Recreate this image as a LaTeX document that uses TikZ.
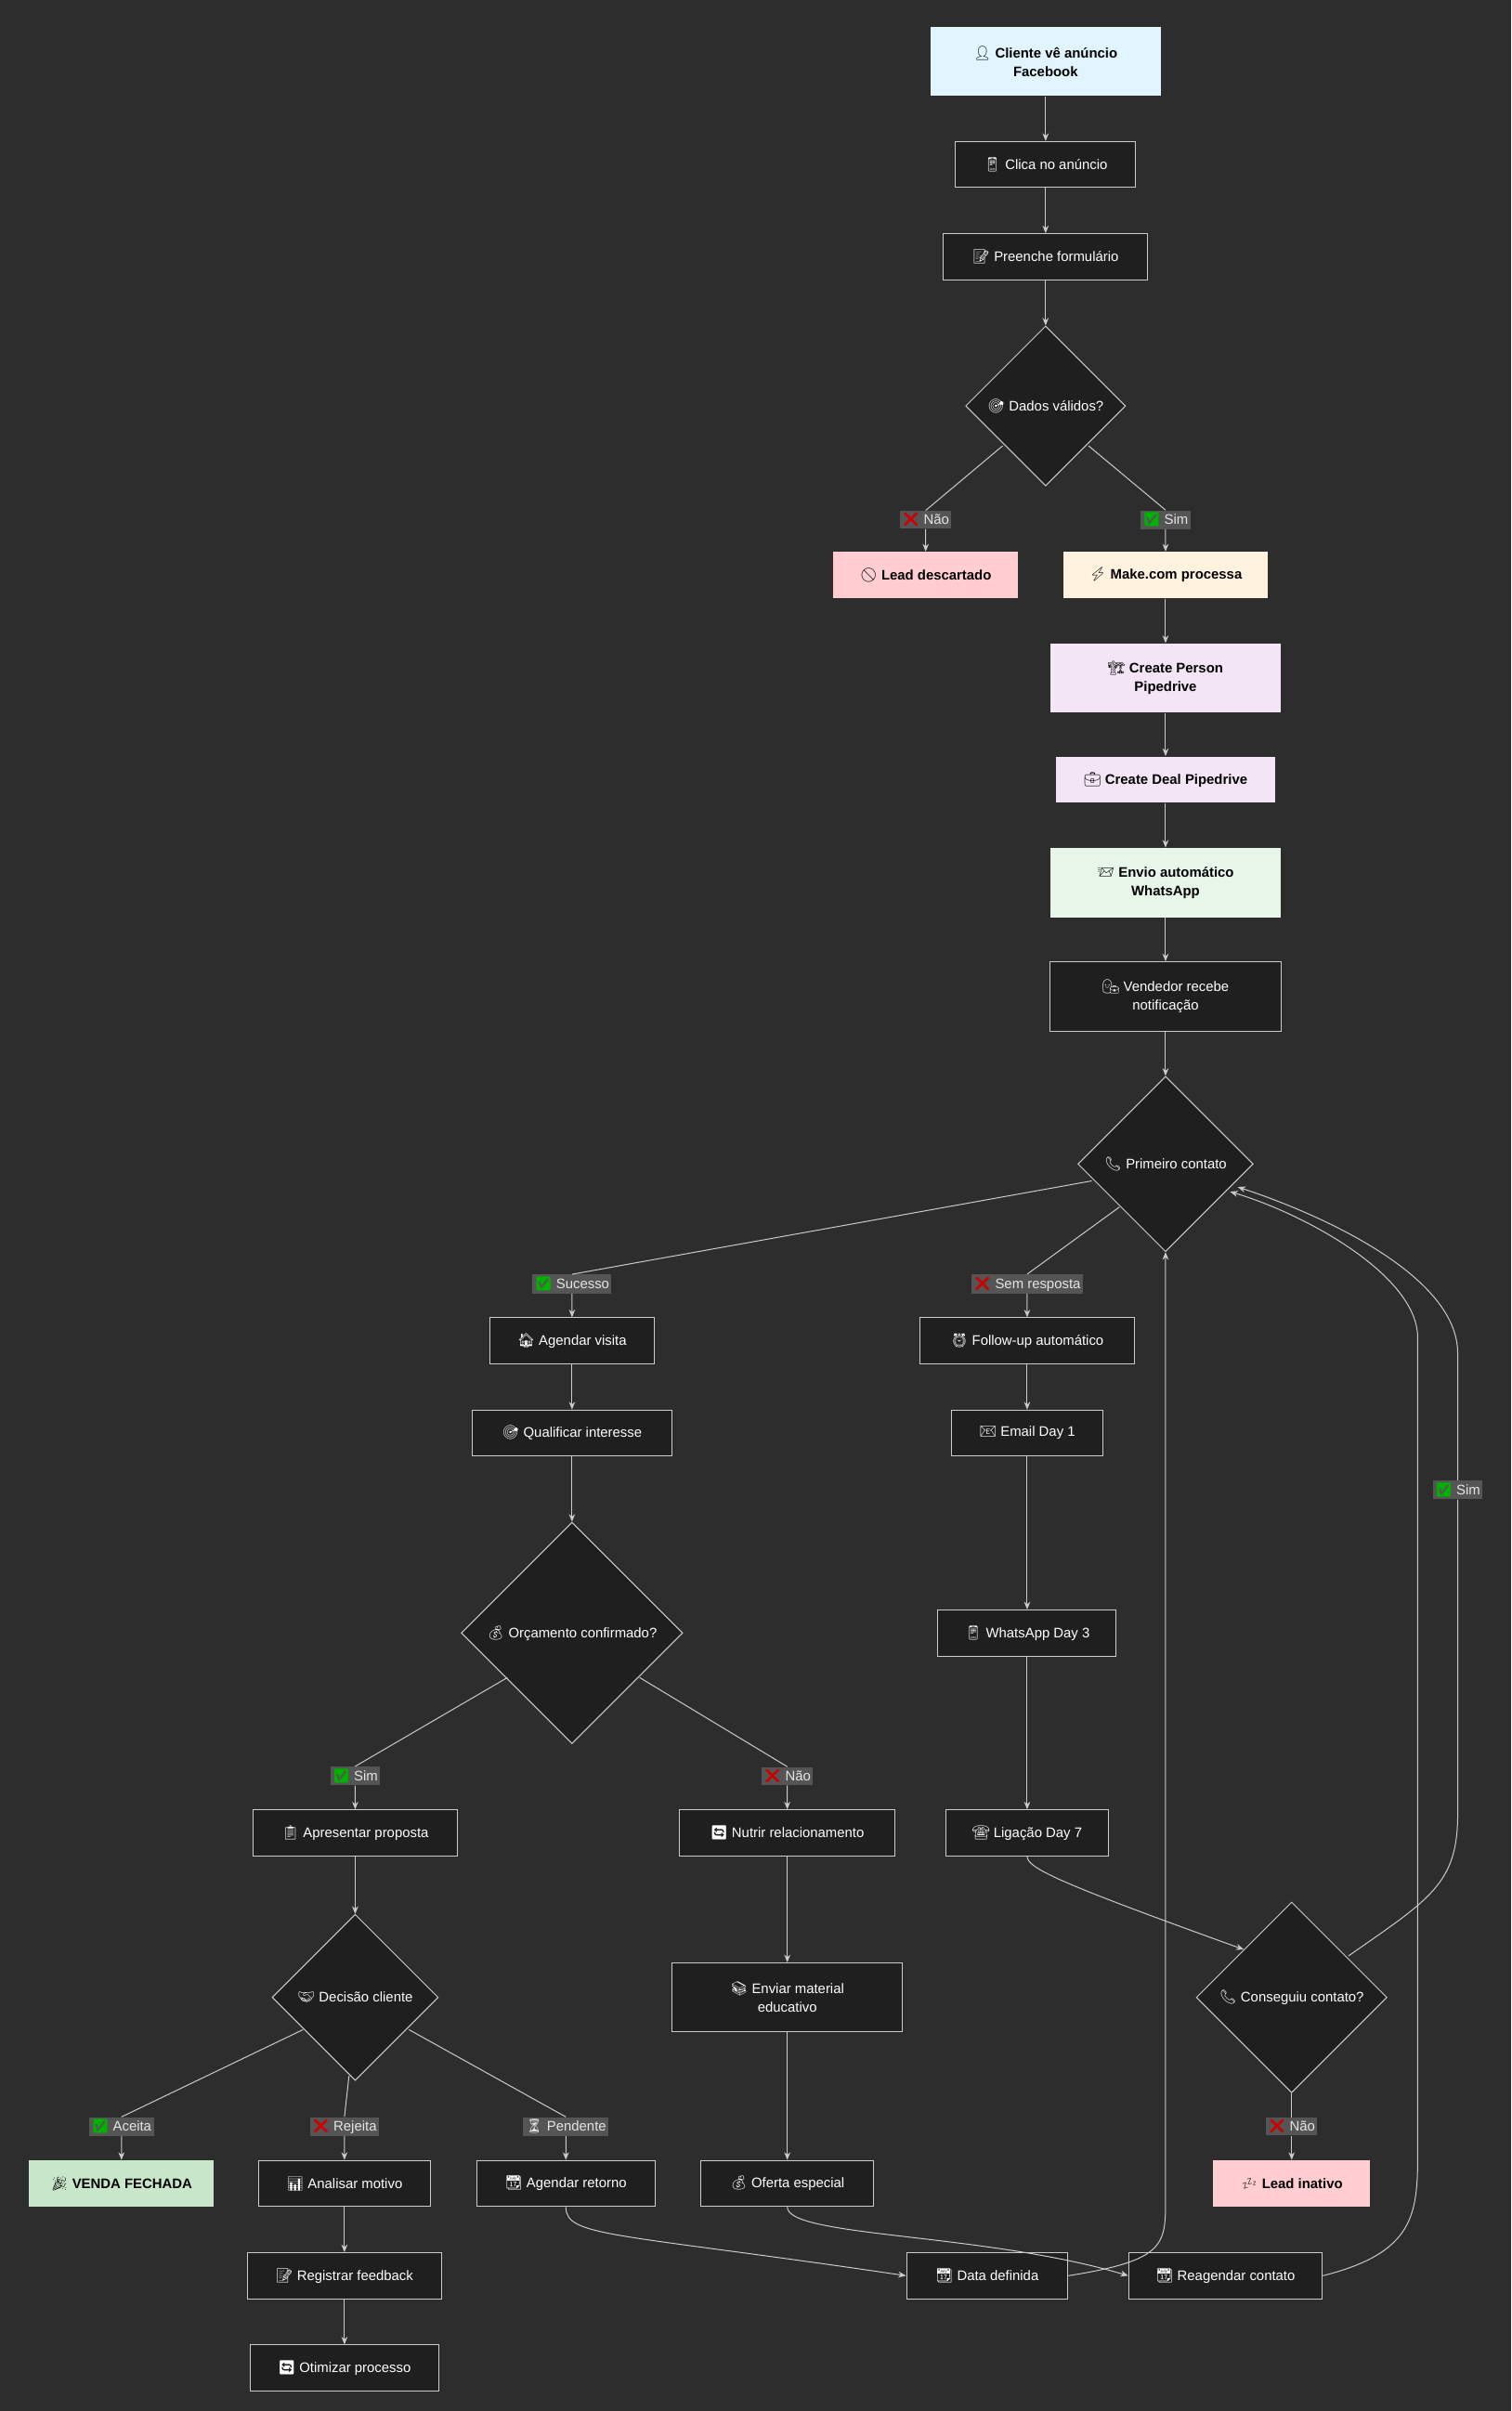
\documentclass[tikz,border=0pt]{standalone}
\usepackage{fontspec}
\setmainfont{Liberation Sans}
\newfontfamily\emo{Noto Emoji}
\usetikzlibrary{shapes.geometric,arrows.meta}
\definecolor{bg}{HTML}{2D2D2D}
\definecolor{nd}{HTML}{1F1F1F}
\definecolor{ln}{HTML}{CCCCCC}
\definecolor{lb}{HTML}{555555}
\definecolor{cblue}{HTML}{E1F5FE}
\definecolor{cpink}{HTML}{FFCDD2}
\definecolor{ccream}{HTML}{FFF3E0}
\definecolor{clav}{HTML}{F3E5F5}
\definecolor{cgreen}{HTML}{E8F5E9}
\definecolor{cgreen2}{HTML}{C8E6C9}
\newcommand{\E}[1]{{\emo #1}}
\newcommand{\okk}{{\emo\color{green!70!black}✅}}
\newcommand{\noo}{{\emo\color{red!80!black}❌}}
\tikzset{
 box/.style={draw=ln,fill=nd,text=white,minimum height=30pt,inner sep=2pt,font=\fontsize{9}{12}\selectfont,line width=0.6pt,align=center},
 cbox/.style={box,draw=none,text=black,font=\bfseries\fontsize{9}{12}\selectfont},
 dia/.style={diamond,draw=ln,fill=nd,line width=0.6pt,inner sep=0pt},
 dt/.style={text=white,font=\fontsize{9}{12}\selectfont},
 lab/.style={fill=lb,text=white!90!black,inner sep=1.5pt,font=\fontsize{9}{11}\selectfont},
 ar/.style={draw=ln,line width=0.6pt,-{Stealth[length=5pt,width=4pt]}},
 x=1pt,y=-1pt
}
\begin{document}
\begin{tikzpicture}
\fill[bg] (0,0) rectangle (983,1568);
\useasboundingbox (0,0) rectangle (983,1568);
% nodes
\node[cbox,fill=cblue,minimum width=150,minimum height=45] (A) at (680,40) {\E{👤} Cliente vê anúncio\\Facebook};
\node[box,minimum width=117] (B) at (680,107) {\E{📱} Clica no anúncio};
\node[box,minimum width=133] (C) at (680,167) {\E{📝} Preenche formulário};
\node[dia,minimum size=104] (D) at (680,264) {};
\node[dt] at (D) {\E{🎯} Dados válidos?};
\node[cbox,fill=cpink,minimum width=120] (E) at (602,374) {\E{🚫} Lead descartado};
\node[cbox,fill=ccream,minimum width=133] (F) at (758,374) {\E{⚡} Make.com processa};
\node[cbox,fill=clav,minimum width=150,minimum height=45] (G) at (758,441) {\E{🏗} Create Person\\Pipedrive};
\node[cbox,fill=clav,minimum width=143] (H) at (758,507) {\E{💼} Create Deal Pipedrive};
\node[cbox,fill=cgreen,minimum width=150,minimum height=45] (I) at (758,574) {\E{📨} Envio automático\\WhatsApp};
\node[box,minimum width=150,minimum height=45] (J) at (758,648) {\E{👨‍💼} Vendedor recebe\\notificação};
\node[dia,minimum size=114] (K) at (758,757) {};
\node[dt] at (K) {\E{📞} Primeiro contato};
\node[box,minimum width=107] (L) at (372,872) {\E{🏠} Agendar visita};
\node[box,minimum width=140] (M) at (668,872) {\E{⏰} Follow-up automático};
\node[box,minimum width=130] (N) at (372,932) {\E{🎯} Qualificar interesse};
\node[box,minimum width=98] (O) at (668,932) {\E{📧} Email Day 1};
\node[dia,minimum size=144] (P) at (372,1062) {};
\node[dt] at (P) {\E{💰} Orçamento confirmado?};
\node[box,minimum width=116] (Q) at (668,1062) {\E{📱} WhatsApp Day 3};
\node[box,minimum width=133] (R) at (231,1192) {\E{📋} Apresentar proposta};
\node[box,minimum width=140] (S) at (512,1192) {\E{🔄} Nutrir relacionamento};
\node[box,minimum width=106] (T) at (668,1192) {\E{☎} Ligação Day 7};
\node[dia,minimum size=108] (U) at (231,1299) {};
\node[dt] at (U) {\E{🤝} Decisão cliente};
\node[box,minimum width=150,minimum height=45] (V) at (512,1299) {\E{📚} Enviar material\\educativo};
\node[dia,minimum size=124] (W) at (840,1299) {};
\node[dt] at (W) {\E{📞} Conseguiu contato?};
\node[cbox,fill=cgreen2,minimum width=120] (X) at (79,1420) {\E{🎉} VENDA FECHADA};
\node[box,minimum width=112] (Y) at (224,1420) {\E{📊} Analisar motivo};
\node[box,minimum width=116] (Z) at (368,1420) {\E{📆} Agendar retorno};
\node[box,minimum width=112] (AA) at (512,1420) {\E{💰} Oferta especial};
\node[cbox,fill=cpink,minimum width=102] (AB) at (840,1420) {\E{💤} Lead inativo};
\node[box,minimum width=126] (AC) at (224,1480) {\E{📝} Registrar feedback};
\node[box,minimum width=105] (AD) at (642,1480) {\E{📆} Data definida};
\node[box,minimum width=126] (AE) at (797,1480) {\E{📆} Reagendar contato};
\node[box,minimum width=123] (AF) at (224,1540) {\E{🔄} Otimizar processo};
% labels
\node[lab] (l1) at (602,338) {\noo{} Não};
\node[lab] (l2) at (758,338) {\okk{} Sim};
\node[lab] (l3) at (372,835) {\okk{} Sucesso};
\node[lab] (l4) at (668,835) {\noo{} Sem resposta};
\node[lab] (l5) at (231,1155) {\okk{} Sim};
\node[lab] (l6) at (512,1155) {\noo{} Não};
\node[lab] (l7) at (79,1383) {\okk{} Aceita};
\node[lab] (l8) at (224,1383) {\noo{} Rejeita};
\node[lab] (l9) at (368,1383) {\E{⏳} Pendente};
\node[lab] (l10) at (840,1383) {\noo{} Não};
\node[lab] (l11) at (948,969) {\okk{} Sim};
% edges
\draw[ar] (A)--(B); \draw[ar] (B)--(C); \draw[ar] (C)--(D);
\draw[ar] (652,290) -- (l1.north) (l1.south) -- (E);
\draw[ar] (708,290) -- (l2.north) (l2.south) -- (F);
\draw[ar] (F)--(G); \draw[ar] (G)--(H); \draw[ar] (H)--(I); \draw[ar] (I)--(J); \draw[ar] (J)--(K);
\draw[ar] (710,768) -- (l3.north) (l3.south) -- (L);
\draw[ar] (728,785) -- (l4.north) (l4.south) -- (M);
\draw[ar] (L)--(N); \draw[ar] (M)--(O); \draw[ar] (N)--(P); \draw[ar] (O)--(Q); \draw[ar] (Q)--(T);
\draw[ar] (330,1091) -- (l5.north) (l5.south) -- (R);
\draw[ar] (416,1091) -- (l6.north) (l6.south) -- (S);
\draw[ar] (R)--(U); \draw[ar] (S)--(V); \draw[ar] (V)--(AA);
\draw[ar] (197,1320) -- (l7.north) (l7.south) -- (X);
\draw[ar] (227,1350) -- (l8.north) (l8.south) -- (Y);
\draw[ar] (266,1320) -- (l9.north) (l9.south) -- (Z);
\draw[ar] (W) -- (l10) -- (AB);
\draw[ar] (Y)--(AC); \draw[ar] (AC)--(AF);
\draw[ar] (T.south) .. controls (668,1215) and (690,1225) .. (W.north west);
\draw[ar] (Z.south) .. controls (368,1455) and (400,1452) .. (AD.west);
\draw[ar] (AA.south) .. controls (512,1455) and (640,1452) .. (AE.west);
\draw[ar] (AD.east) .. controls (758,1470) and (758,1460) .. (758,1430) -- (K.south);
\draw[ar] (AE.east) .. controls (920,1465) and (922,1440) .. (922,1400) -- (922,870) .. controls (922,830) and (850,790) .. (800,775);
\draw[ar] (877,1272) .. controls (930,1235) and (948,1225) .. (948,1180) -- (l11.south) (l11.north) -- (948,880) .. controls (948,830) and (860,790) .. (805,772);
\end{tikzpicture}
\end{document}
